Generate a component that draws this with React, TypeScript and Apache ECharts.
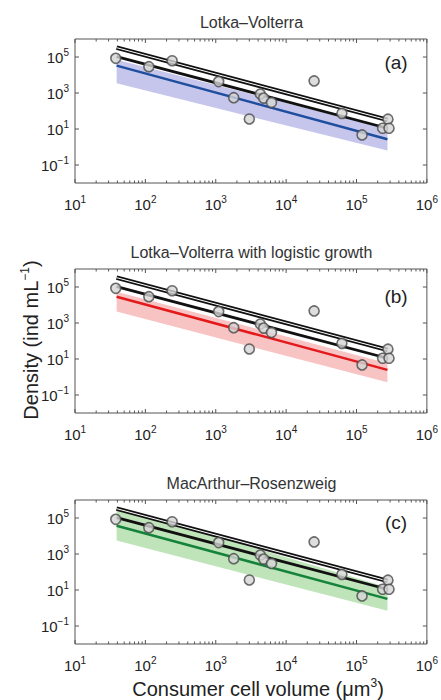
import React, { useEffect, useRef } from 'react';
import * as echarts from 'echarts';

// Observed data (consumer cell volume in µm³, density in ind mL⁻¹)
const volume = [38, 112, 240, 1100, 1800, 3000, 4300, 4800, 6200, 25000, 62000, 120000, 235000, 280000, 290000];
const density = [85000, 29000, 62000, 4300, 550, 36, 870, 520, 300, 4700, 74, 4.7, 11, 35, 11];

// Fitted lines (endpoints)
const fitVolume = [39, 275000];
const fitUpper = [330000, 32];
const fitMain = [105000, 11];

// Model predictions per panel
const panelTitles = ['Lotka\u2013Volterra', 'Lotka\u2013Volterra with logistic growth', 'MacArthur\u2013Rosenzweig'];
const panelTags = ['(a)', '(b)', '(c)'];
const modelLines = [
  [33000, 2.7],
  [29000, 2.5],
  [37000, 3.2],
];
const bandUpper = [
  [71000, 10],
  [55000, 5.8],
  [420000, 14],
];
const bandLower = [
  [3500, 0.63],
  [4300, 0.51],
  [5600, 0.7],
];
const modelColors = ['#1f4e9e', '#e3191c', '#15833a'];
const bandColors = ['rgba(160,160,225,0.6)', 'rgba(244,155,155,0.6)', 'rgba(150,210,140,0.6)'];

// Ticks (exponents)
const xTickExponents = [1, 2, 3, 4, 5, 6];
const yTickExponents = [-1, 1, 3, 5];
const minorMultipliers = [2, 3, 4, 5, 6, 7, 8, 9];

const L = Math.log10;
const FONT = '"Liberation Sans", Arial, Helvetica, sans-serif';
const gridTops = [39, 269, 500];
const titleYs = [22, 252, 483];
const tagYs = [62, 296, 522];
const GRID_LEFT = 75;
const GRID_W = 353;
const GRID_H = 144;
const AXIS = '#555';

const sup = (n: number) => (n < 0 ? '\u2212' + Math.abs(n) : String(n));

export default function App() {
  const ref = useRef<HTMLDivElement>(null);

  useEffect(() => {
    document.body.style.margin = '0';
    if (!ref.current) return;
    const chart = echarts.init(ref.current, undefined, { renderer: 'svg' });

    const tickData: number[][] = [];
    xTickExponents.forEach((e) => tickData.push([e, 0]));
    for (let n = 1; n < 6; n++) {
      minorMultipliers.forEach((k) => tickData.push([n + L(k), 1]));
    }
    yTickExponents.forEach((e) => tickData.push([e, 2]));

    const grids: any[] = [];
    const xAxes: any[] = [];
    const yAxes: any[] = [];
    const series: any[] = [];
    const graphics: any[] = [];

    const labelRich = {
      b: { fontSize: 15, color: '#222', fontFamily: FONT },
      s: { fontSize: 10, color: '#222', fontFamily: FONT, padding: [0, 0, 10, 0] },
    };

    for (let i = 0; i < 3; i++) {
      grids.push({
        left: GRID_LEFT,
        top: gridTops[i],
        width: GRID_W,
        height: GRID_H,
        show: true,
        borderColor: AXIS,
        borderWidth: 1,
        backgroundColor: '#fff',
      });
      xAxes.push({
        gridIndex: i,
        type: 'value',
        min: 1,
        max: 6,
        interval: 1,
        axisLine: { show: false },
        axisTick: { show: false },
        splitLine: { show: false },
        axisLabel: {
          margin: 11,
          showMinLabel: true,
          showMaxLabel: true,
          formatter: (v: number) => `{b|10}{s|${sup(v)}}`,
          rich: labelRich,
        },
      });
      yAxes.push({
        gridIndex: i,
        type: 'value',
        min: -2,
        max: 6,
        interval: 1,
        axisLine: { show: false },
        axisTick: { show: false },
        splitLine: { show: false },
        axisLabel: {
          margin: 6,
          formatter: (v: number) => (Math.abs(v) % 2 === 1 ? `{b|10}{s|${sup(v)}}` : ''),
          rich: labelRich,
        },
      });

      const bandData = fitVolume.map((v, j) => [L(v), L(bandUpper[i][j]), L(bandLower[i][j])]);
      const fill = bandColors[i];
      series.push({
        type: 'custom',
        xAxisIndex: i,
        yAxisIndex: i,
        z: 1,
        silent: true,
        data: bandData,
        encode: { x: 0, y: 1 },
        renderItem: (params: any, api: any) => {
          if (params.dataIndex !== 0) return null;
          const top = bandData.map((d) => api.coord([d[0], d[1]]));
          const bot = bandData.map((d) => api.coord([d[0], d[2]])).reverse();
          return { type: 'polygon', shape: { points: [...top, ...bot] }, style: { fill } };
        },
      });
      series.push({
        type: 'line',
        xAxisIndex: i,
        yAxisIndex: i,
        z: 3,
        symbol: 'none',
        silent: true,
        lineStyle: { color: modelColors[i], width: 2.5 },
        data: fitVolume.map((v, j) => [L(v), L(modelLines[i][j])]),
      });
      series.push({
        type: 'line',
        xAxisIndex: i,
        yAxisIndex: i,
        z: 4,
        symbol: 'none',
        silent: true,
        lineStyle: { color: '#111', width: 4.5 },
        data: fitVolume.map((v, j) => [L(v), L(fitUpper[j])]),
      });
      series.push({
        type: 'line',
        xAxisIndex: i,
        yAxisIndex: i,
        z: 5,
        symbol: 'none',
        silent: true,
        lineStyle: { color: '#fff', width: 1 },
        data: fitVolume.map((v, j) => [L(v), L(fitUpper[j])]),
      });
      series.push({
        type: 'line',
        xAxisIndex: i,
        yAxisIndex: i,
        z: 4,
        symbol: 'none',
        silent: true,
        lineStyle: { color: '#111', width: 2.8 },
        data: fitVolume.map((v, j) => [L(v), L(fitMain[j])]),
      });
      series.push({
        type: 'scatter',
        xAxisIndex: i,
        yAxisIndex: i,
        z: 6,
        symbolSize: 10,
        itemStyle: { color: '#d6d6d6', borderColor: '#4a4a4a', borderWidth: 1.6 },
        data: volume.map((v, j) => [L(v), L(density[j])]),
      });
      series.push({
        type: 'custom',
        xAxisIndex: i,
        yAxisIndex: i,
        z: 7,
        silent: true,
        data: tickData,
        encode: { x: 0, y: 1 },
        renderItem: (_params: any, api: any) => {
          const v = api.value(0);
          const kind = api.value(1);
          const style = { stroke: AXIS, lineWidth: 1 };
          if (kind < 2) {
            const b = api.coord([v, -2]);
            const t = api.coord([v, 6]);
            const len = kind === 0 ? 4 : 2.5;
            return {
              type: 'group',
              children: [
                { type: 'line', shape: { x1: b[0], y1: b[1], x2: b[0], y2: b[1] - len }, style },
                { type: 'line', shape: { x1: t[0], y1: t[1], x2: t[0], y2: t[1] + len }, style },
              ],
            };
          }
          const l = api.coord([1, v]);
          const r = api.coord([6, v]);
          return {
            type: 'group',
            children: [
              { type: 'line', shape: { x1: l[0], y1: l[1], x2: l[0] + 4, y2: l[1] }, style },
              { type: 'line', shape: { x1: r[0], y1: r[1], x2: r[0] - 4, y2: r[1] }, style },
            ],
          };
        },
      });

      graphics.push({
        type: 'text',
        x: GRID_LEFT + GRID_W / 2,
        y: titleYs[i],
        style: {
          text: panelTitles[i],
          fontSize: 16,
          fontFamily: FONT,
          fill: '#333',
          align: 'center',
          verticalAlign: 'middle',
        },
      });
      graphics.push({
        type: 'text',
        x: 396,
        y: tagYs[i],
        z: 10,
        style: {
          text: panelTags[i],
          fontSize: 19,
          fontFamily: FONT,
          fill: '#222',
          align: 'center',
          verticalAlign: 'middle',
        },
      });
    }

    graphics.push({
      type: 'text',
      x: 31,
      y: 340,
      rotation: Math.PI / 2,
      style: {
        text: 'Density (ind mL{s|\u22121})',
        fontSize: 20,
        fontFamily: FONT,
        fill: '#222',
        align: 'center',
        verticalAlign: 'middle',
        rich: { s: { fontSize: 12, fontFamily: FONT, fill: '#222', padding: [0, 0, 12, 0] } },
      },
    });
    graphics.push({
      type: 'text',
      x: 258,
      y: 689,
      style: {
        text: 'Consumer cell volume (\u03bcm{s|3})',
        fontSize: 20,
        fontFamily: FONT,
        fill: '#222',
        align: 'center',
        verticalAlign: 'middle',
        rich: { s: { fontSize: 12, fontFamily: FONT, fill: '#222', padding: [0, 0, 12, 0] } },
      },
    });

    chart.setOption({
      animation: false,
      backgroundColor: '#fff',
      grid: grids,
      xAxis: xAxes,
      yAxis: yAxes,
      series,
      graphic: graphics,
    });

    return () => chart.dispose();
  }, []);

  return <div ref={ref} style={{ width: 441, height: 700 }} />;
}
